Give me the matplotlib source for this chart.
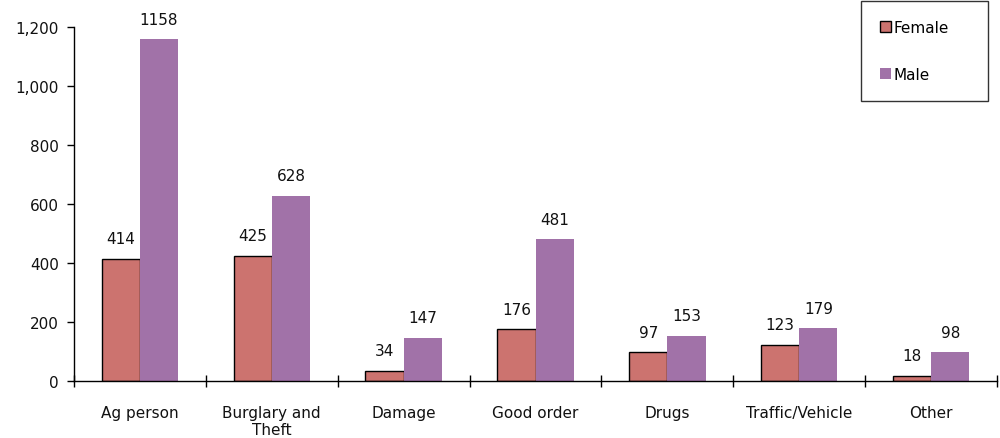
import numpy as np
import matplotlib.pyplot as plt
from matplotlib.ticker import FuncFormatter, FixedLocator

#%% Data

categories = ["Ag person", "Burglary and\nTheft", "Damage", "Good order",
              "Drugs", "Traffic/Vehicle", "Other"]
female = [414, 425, 34, 176, 97, 123, 18]
male = [1158, 628, 147, 481, 153, 179, 98]

#%% Plot

female_color = "#CC736F"
male_color = "#A172A8"

fig = plt.figure(figsize=(10, 4.39), dpi=100)
ax = fig.add_axes([0.074, 0.13, 0.923, 0.806])

x = np.arange(len(categories))
w = 0.29
bf = ax.bar(x - w / 2, female, w, color=female_color, edgecolor="black",
            linewidth=1, label="Female")
bm = ax.bar(x + w / 2, male, w, color=male_color, edgecolor="none",
            label="Male")

# Value labels above bars
for rect, v in zip(list(bf) + list(bm), female + male):
    ax.annotate(str(v), (rect.get_x() + rect.get_width() / 2, v),
                xytext=(0, 9), textcoords="offset points",
                ha="center", va="bottom", fontsize=11, color="#111111")

ax.set_xlim(-0.5, len(categories) - 0.5)
ax.set_ylim(0, 1200)
ax.set_yticks(np.arange(0, 1201, 200))
ax.yaxis.set_major_formatter(FuncFormatter(lambda v, p: f"{int(v):,}"))

# category labels centred, tick marks between categories
ax.set_xticks(x)
ax.set_xticklabels(categories, fontsize=11, color="#111111", linespacing=1.2)
ax.tick_params(axis="x", which="major", length=0, pad=17)
ax.xaxis.set_minor_locator(FixedLocator(np.arange(-0.5, len(categories), 1.0)))
ax.tick_params(axis="x", which="minor", length=9, direction="inout", width=1)
ax.tick_params(axis="y", length=5, width=1, labelsize=11, labelcolor="#111111",
               pad=6)

for s in ["top", "right"]:
    ax.spines[s].set_visible(False)
for s in ["left", "bottom"]:
    ax.spines[s].set_linewidth(1)

leg = fig.legend(handles=[bf, bm], labels=["Female", "Male"],
                 loc="upper left",
                 bbox_to_anchor=(0.861, 1 - 100 / 439, 0.127, 98 / 439),
                 mode="expand", fontsize=11, frameon=True, fancybox=False,
                 handlelength=0.7, handleheight=0.7, handletextpad=0.2,
                 labelspacing=2.1, borderpad=1.25, borderaxespad=0)
leg.get_frame().set_edgecolor("black")
leg.get_frame().set_linewidth(1)

fig.savefig("out.png", dpi=100)
